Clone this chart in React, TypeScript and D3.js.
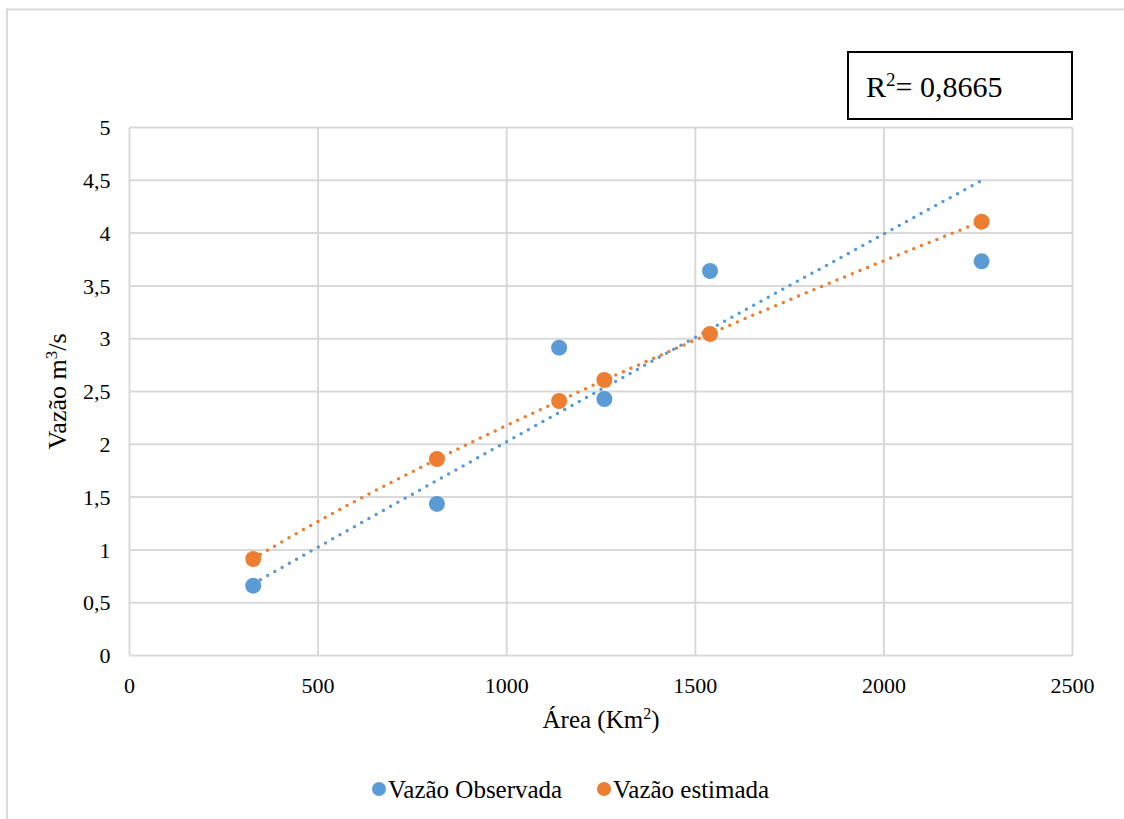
import * as d3 from 'd3';

// Área (Km²) of each basin
const AREAS = [328, 815, 1139, 1259, 1539, 2259];
// Vazão observada (m³/s)
const OBSERVED = [0.661, 1.435, 2.915, 2.429, 3.641, 3.733];
// Vazão estimada (m³/s)
const ESTIMATED = [0.914, 1.861, 2.41, 2.609, 3.045, 4.108];

const X_TICKS = [0, 500, 1000, 1500, 2000, 2500];
const Y_TICKS = [0, 0.5, 1, 1.5, 2, 2.5, 3, 3.5, 4, 4.5, 5];

const BLUE = '#5B9BD5';
const ORANGE = '#ED7D31';
const GRID = '#d9d9d9';
const FONT = "'Times New Roman', 'Liberation Serif', 'DejaVu Serif', serif";

const W = 1124;
const H = 819;

// power trendline y = a * x^b (least squares in log-log space, as Excel does)
function powerFit(xs: number[], ys: number[]) {
  const lx = xs.map(Math.log);
  const ly = ys.map(Math.log);
  const mx = d3.mean(lx)!;
  const my = d3.mean(ly)!;
  const sxy = d3.sum(lx, (v, i) => (v - mx) * (ly[i] - my));
  const sxx = d3.sum(lx, (v) => (v - mx) ** 2);
  const b = sxy / sxx;
  const a = Math.exp(my - b * mx);
  return (x: number) => a * Math.pow(x, b);
}

export default function App() {
  const margin = { left: 129.5, right: W - 1072.5, top: 127.5, bottom: H - 655.5 };

  const x = d3.scaleLinear().domain([0, 2500]).range([margin.left, W - margin.right]);
  const y = d3.scaleLinear().domain([0, 5]).range([H - margin.bottom, margin.top]);

  const fmt = (v: number) => String(v).replace('.', ',');

  const trend = (ys: number[]) => {
    const f = powerFit(AREAS, ys);
    const [lo, hi] = d3.extent(AREAS) as [number, number];
    const pts = d3.range(0, 101).map((i) => lo + ((hi - lo) * i) / 100);
    return d3
      .line<number>()
      .x((d) => x(d))
      .y((d) => y(f(d)))(pts)!;
  };

  const series = [
    { name: 'Vazão Observada', values: OBSERVED, color: BLUE },
    { name: 'Vazão estimada', values: ESTIMATED, color: ORANGE },
  ];

  const txt = { fontFamily: FONT };

  return (
    <div style={{ position: 'absolute', left: 0, top: 0 }}>
      <svg width={W} height={H} style={{ display: 'block', background: '#fff', fontFamily: FONT }}>
        {/* chart area frame */}
        <rect x={7} y={9.5} width={W + 20} height={H + 20} fill="#fff" stroke={GRID} strokeWidth={2} />

        {/* gridlines */}
        {Y_TICKS.map((t) => (
          <line key={'gy' + t} x1={x(0)} x2={x(2500)} y1={y(t)} y2={y(t)} stroke={GRID} strokeWidth={2} />
        ))}
        {X_TICKS.map((t) => (
          <line key={'gx' + t} x1={x(t)} x2={x(t)} y1={y(0)} y2={y(5)} stroke={GRID} strokeWidth={2} />
        ))}

        {/* tick labels */}
        {Y_TICKS.map((t) => (
          <text key={'ty' + t} style={txt} x={x(0) - 19} y={y(t)} dy="0.35em" textAnchor="end" fontSize={22} fill="#000">
            {fmt(t)}
          </text>
        ))}
        {X_TICKS.map((t) => (
          <text key={'tx' + t} style={txt} x={x(t)} y={y(0) + 37} textAnchor="middle" fontSize={22} fill="#000">
            {t}
          </text>
        ))}

        {/* axis titles */}
        <text style={txt} x={(x(0) + x(2500)) / 2} y={728} textAnchor="middle" fontSize={25} fill="#000">
          Área (Km<tspan fontSize={16} dy={-9}>2</tspan>
          <tspan dy={9}>)</tspan>
        </text>
        <text style={txt} transform={`translate(66, ${(y(0) + y(5)) / 2}) rotate(-90)`} textAnchor="middle" fontSize={26} fill="#000">
          Vazão m<tspan fontSize={17} dy={-9}>3</tspan>
          <tspan dy={9}>/s</tspan>
        </text>

        {/* trendlines */}
        {series.map((s) => (
          <path
            key={'tr' + s.name}
            d={trend(s.values)}
            fill="none"
            stroke={s.color}
            strokeWidth={3.5}
            strokeLinecap="round"
            strokeDasharray="0 8.3"
          />
        ))}

        {/* points */}
        {series.map((s) =>
          s.values.map((v, i) => (
            <circle key={s.name + i} cx={x(AREAS[i])} cy={y(v)} r={8} fill={s.color} />
          ))
        )}

        {/* R² box */}
        <rect x={848} y={52} width={224} height={67} fill="#fff" stroke="#000" strokeWidth={2} />
        <text style={txt} x={866} y={97} fontSize={30} fill="#000">
          R<tspan fontSize={19} dy={-11}>2</tspan>
          <tspan dy={11}>= 0,8665</tspan>
        </text>

        {/* legend */}
        {series.map((s, i) => {
          const lx = i === 0 ? 379 : 604;
          return (
            <g key={'lg' + s.name}>
              <circle cx={lx} cy={789} r={7} fill={s.color} />
              <text style={txt} x={lx + 9} y={789} dy="0.35em" fontSize={25} fill="#000">
                {s.name}
              </text>
            </g>
          );
        })}
      </svg>
    </div>
  );
}
